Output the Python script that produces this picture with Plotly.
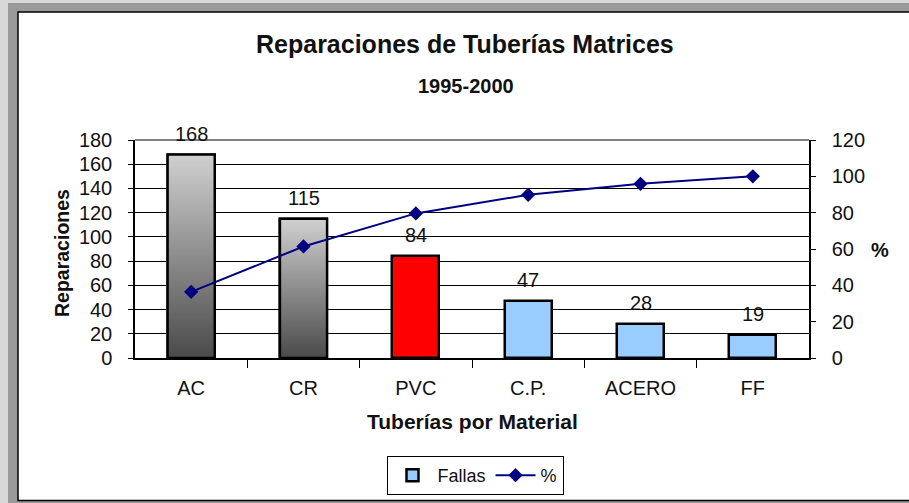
import plotly.graph_objects as go

# Reparaciones por material de tubería, 1995-2000
materiales = ["AC", "CR", "PVC", "C.P.", "ACERO", "FF"]
reparaciones = [168, 115, 84, 47, 28, 19]
porcentaje_acumulado = [36.4, 61.4, 79.6, 89.8, 95.9, 100.0]
colores_barras = ["#99ccff", "#99ccff", "#ff0000", "#99ccff", "#99ccff", "#99ccff"]
barras_degradadas = [0, 1]  # AC y CR se pintan con degradado gris

W, H = 909, 503
L, R, T, B = 135, 809, 140, 358  # área de trazado en píxeles
ANCHO_BARRA = 0.42
FUENTE = "Liberation Sans, Arial, sans-serif"


def xp(px):
    return (px - L) / (R - L)


def yp(py):
    return (B - py) / (B - T)


fig = go.Figure()

fig.add_trace(go.Bar(
    x=list(range(len(materiales))), y=reparaciones, name="Fallas",
    width=ANCHO_BARRA, marker=dict(color=colores_barras, line=dict(color="black", width=2.5)),
    hoverinfo="skip",
))

# degradado vertical para las dos primeras barras
for i in barras_degradadas:
    v = reparaciones[i]
    x0, x1 = i - ANCHO_BARRA / 2, i + ANCHO_BARRA / 2
    fig.add_trace(go.Scatter(
        x=[x0, x1, x1, x0, x0], y=[0, 0, v, v, 0], mode="lines", fill="toself",
        line=dict(color="black", width=2.5),
        fillgradient=dict(type="vertical", colorscale=[[0, "#4a4a4a"], [1, "#d0d0d0"]], start=0, stop=v),
        showlegend=False, hoverinfo="skip",
    ))

fig.add_trace(go.Scatter(
    x=list(range(len(materiales))), y=porcentaje_acumulado, name="%", yaxis="y2",
    mode="lines+markers", line=dict(color="#000080", width=2),
    marker=dict(symbol="diamond", size=11, color="#000080"), hoverinfo="skip",
))

anotaciones = []
for i, v in enumerate(reparaciones):
    anotaciones.append(dict(x=i, y=v, xref="x", yref="y", text=str(v), showarrow=False,
                            yanchor="bottom", yshift=8, font=dict(size=20, color="#111")))

anotaciones += [
    dict(x=xp(465), y=yp(44), xref="paper", yref="paper", text="<b>Reparaciones de Tuberías Matrices</b>",
         showarrow=False, xanchor="center", yanchor="middle", font=dict(size=25, color="#111")),
    dict(x=xp(466), y=yp(86), xref="paper", yref="paper", text="<b>1995-2000</b>",
         showarrow=False, xanchor="center", yanchor="middle", font=dict(size=20, color="#111")),
    dict(x=xp(472), y=yp(421), xref="paper", yref="paper", text="<b>Tuberías por Material</b>",
         showarrow=False, xanchor="center", yanchor="middle", font=dict(size=21, color="#111")),
    dict(x=xp(62), y=yp(253), xref="paper", yref="paper", text="<b>Reparaciones</b>", textangle=-90,
         showarrow=False, xanchor="center", yanchor="middle", font=dict(size=19.5, color="#111")),
    dict(x=xp(880), y=yp(250), xref="paper", yref="paper", text="<b>%</b>",
         showarrow=False, xanchor="center", yanchor="middle", font=dict(size=20, color="#111")),
]

formas = [
    # marco gris exterior y hoja blanca con borde negro
    dict(type="rect", xref="paper", yref="paper", x0=xp(8), x1=xp(W + 20), y0=yp(H + 20), y1=yp(3),
         fillcolor="#9a9a9a", line=dict(width=0), layer="below"),
    dict(type="rect", xref="paper", yref="paper", x0=xp(18), x1=xp(W + 20), y0=yp(500.5), y1=yp(12),
         fillcolor="white", line=dict(color="black", width=1.5), layer="below"),
    # borde superior gris del área de trazado
    dict(type="line", xref="paper", yref="paper", x0=0, x1=1, y0=1, y1=1,
         line=dict(color="#808080", width=2)),
]

fig.update_layout(
    width=W, height=H,
    margin=dict(l=L, r=W - R, t=T, b=H - B, pad=0, autoexpand=False),
    paper_bgcolor="#d8d8d8", plot_bgcolor="white",
    font=dict(family=FUENTE, size=20, color="#111"),
    showlegend=True,
    legend=dict(orientation="h", x=xp(475), xanchor="center", y=yp(456), yanchor="top",
                bgcolor="white", bordercolor="black", borderwidth=1,
                font=dict(size=18, color="#111"), itemwidth=40, tracegroupgap=0),
    xaxis=dict(range=[-0.5, len(materiales) - 0.5], tickvals=list(range(len(materiales))),
               ticktext=materiales, ticks="", showgrid=False, zeroline=False, automargin=False,
               showline=True, linecolor="black", linewidth=1.5, ticklabelstandoff=11,
               minor=dict(tickvals=[i + 0.5 for i in range(len(materiales) - 1)], ticks="outside",
                          ticklen=8, tickcolor="black", tickwidth=1, showgrid=False),
               fixedrange=True),
    yaxis=dict(range=[0, 180], dtick=20, ticks="outside", ticklen=5, tickcolor="black",
               showgrid=True, gridcolor="black", gridwidth=1, zeroline=False, automargin=False,
               showline=True, linecolor="black", linewidth=1.5, ticklabelstandoff=12,
               fixedrange=True),
    yaxis2=dict(range=[0, 120], dtick=20, overlaying="y", side="right", ticks="outside",
                ticklen=5, tickcolor="black", showgrid=False, zeroline=False, automargin=False,
                showline=True, linecolor="black", linewidth=1.5, ticklabelstandoff=12,
                fixedrange=True),
    annotations=anotaciones,
    shapes=formas,
    bargap=0,
)

fig.write_html("out.html")
